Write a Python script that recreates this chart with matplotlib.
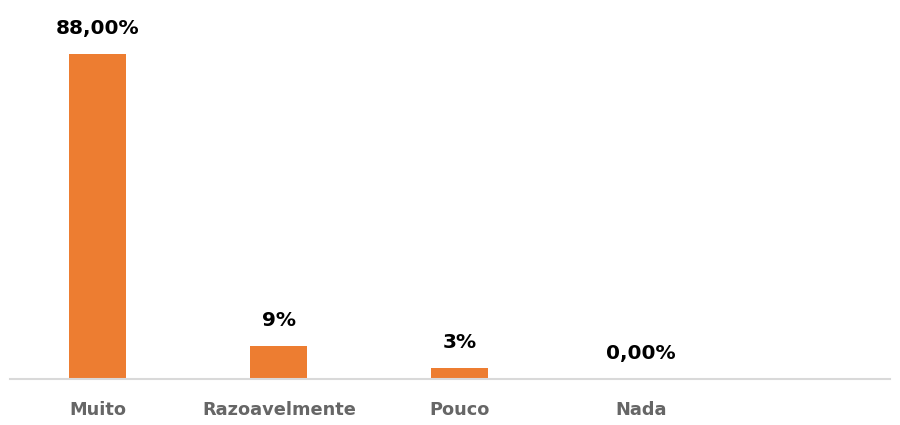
import matplotlib.pyplot as plt

categories = ["Muito", "Razoavelmente", "Pouco", "Nada"]
values = [88.0, 9.0, 3.0, 0.0]
value_labels = ["88,00%", "9%", "3%", "0,00%"]

orange = "#ED7D31"

fig = plt.figure(figsize=(9, 4.25), dpi=100)
ax = fig.add_axes([10 / 900, 46 / 425, 880 / 900, 369 / 425])

x = list(range(len(categories)))
bars = ax.bar(x, values, width=0.315, color=orange, zorder=2)

for rect, lab in zip(bars, value_labels):
    ax.annotate(lab, (rect.get_x() + rect.get_width() / 2, rect.get_height()),
                xytext=(0, 18.5), textcoords="offset points",
                ha="center", va="center", fontsize=14.5, fontweight="bold",
                color="#000000")

ax.set_xlim(-0.486, 4.376)
ax.set_ylim(0, 100)

ax.set_xticks(x)
ax.set_xticklabels(categories, fontsize=12.8, fontweight="bold", color="#666666")
ax.tick_params(axis="x", length=0, pad=16)
ax.set_yticks([])

for s in ["top", "right", "left"]:
    ax.spines[s].set_visible(False)
ax.spines["bottom"].set_color("#D9D9D9")
ax.spines["bottom"].set_linewidth(1.5)

fig.savefig("out.png", dpi=100)
